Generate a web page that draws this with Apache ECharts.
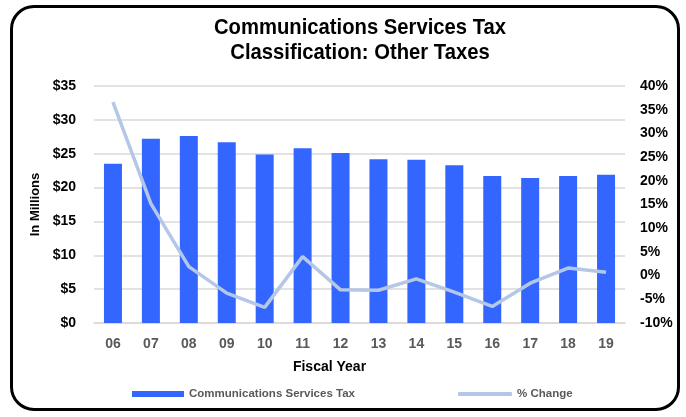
<!DOCTYPE html>
<html>
<head>
<meta charset="utf-8">
<script src="https://cdn.jsdelivr.net/npm/echarts@6/dist/echarts.min.js"></script>
<style>
html,body{margin:0;padding:0;background:#fff;}
#wrap{position:relative;width:686px;height:417px;}
#chart{position:absolute;left:0;top:0;width:686px;height:417px;}
#frame{position:absolute;left:10px;top:5px;width:664px;height:400px;border:3px solid #000;border-radius:24px;pointer-events:none;}
</style>
</head>
<body>
<div id="wrap"><div id="chart"></div><div id="frame"></div></div>
<script>
var categories = ['06','07','08','09','10','11','12','13','14','15','16','17','18','19'];
var taxValues = [23.5, 27.2, 27.6, 26.7, 24.9, 25.8, 25.1, 24.2, 24.1, 23.3, 21.7, 21.4, 21.7, 21.9];
var pctChange = [36.6, 15.2, 1.9, -3.7, -6.7, 4.0, -3.0, -3.1, -0.7, -3.5, -6.5, -1.6, 1.6, 0.7];
var titleLines = ['Communications Services Tax', 'Classification: Other Taxes'];
var leftTicks = {min: 0, max: 35, interval: 5};
var rightTicks = {min: -10, max: 40, interval: 5};

var FONT = "'Liberation Sans Narrow', 'Arial Narrow', 'Liberation Sans', Arial, sans-serif";
var chart = echarts.init(document.getElementById('chart'));
chart.setOption({
  animation: false,
  graphic: [
    {type: 'text', x: 360, y: 28, scaleX: 0.92, style: {text: titleLines[0], textAlign: 'center', textVerticalAlign: 'middle', fontFamily: FONT, fontSize: 22, fontWeight: 'bold', fill: '#000'}},
    {type: 'text', x: 360, y: 53, scaleX: 0.92, style: {text: titleLines[1], textAlign: 'center', textVerticalAlign: 'middle', fontFamily: FONT, fontSize: 22, fontWeight: 'bold', fill: '#000'}}
  ],
  grid: {left: 94, right: 61, top: 86, bottom: 94},
  legend: [{
    data: ['Communications Services Tax'], left: 127, top: 383,
    itemWidth: 52, itemHeight: 6, icon: 'rect', itemGap: 5,
    textStyle: {fontFamily: FONT, fontSize: 11.5, fontWeight: 'bold', color: '#595959'}
  }, {
    data: [{name: '% Change', icon: 'roundRect'}], left: 453, top: 383,
    itemWidth: 54, itemHeight: 4,
    textStyle: {fontFamily: FONT, fontSize: 11.5, fontWeight: 'bold', color: '#595959'}
  }],
  xAxis: {
    type: 'category', data: categories,
    name: 'Fiscal Year', nameLocation: 'middle', nameGap: 37,
    nameTextStyle: {fontFamily: FONT, fontSize: 14, fontWeight: 'bold', color: '#000', padding: [0, 60, 0, 0]},
    axisLine: {show: true, lineStyle: {color: '#d9d9d9', width: 1.5}},
    axisTick: {show: false},
    axisLabel: {fontFamily: FONT, fontSize: 14, fontWeight: 'bold', color: '#595959', margin: 14}
  },
  yAxis: [{
    type: 'value', min: leftTicks.min, max: leftTicks.max, interval: leftTicks.interval,
    name: 'In Millions', nameLocation: 'middle', nameGap: 50, nameRotate: 90,
    nameTextStyle: {fontFamily: FONT, fontSize: 13, fontWeight: 'bold', color: '#000'},
    axisLabel: {formatter: '${value}', fontFamily: FONT, fontSize: 14, fontWeight: 'bold', color: '#000', margin: 18},
    splitLine: {lineStyle: {color: '#d9d9d9', width: 1.5}},
    axisLine: {show: false}, axisTick: {show: false}
  }, {
    type: 'value', min: rightTicks.min, max: rightTicks.max, interval: rightTicks.interval,
    axisLabel: {formatter: '{value}%', fontFamily: FONT, fontSize: 14, fontWeight: 'bold', color: '#000', margin: 15},
    splitLine: {show: false}, axisLine: {show: false}, axisTick: {show: false}
  }],
  series: [{
    name: 'Communications Services Tax', type: 'bar', data: taxValues,
    barWidth: 18, itemStyle: {color: '#3366ff'}
  }, {
    name: '% Change', type: 'line', yAxisIndex: 1, data: pctChange,
    symbol: 'none', lineStyle: {color: '#b4c7e7', width: 3.5}, itemStyle: {color: '#b4c7e7'}
  }]
});
</script>
</body>
</html>
